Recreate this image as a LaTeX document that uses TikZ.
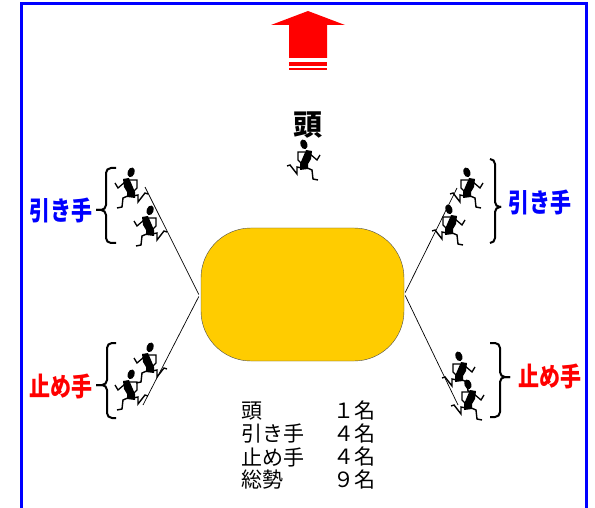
\documentclass[tikz,border=0pt]{standalone}
\usepackage{fontspec}
\usepackage{amsmath}
\usepackage{graphicx}
\newfontfamily\jpfont{Noto Sans CJK JP}
\usetikzlibrary{arrows}
\definecolor{tablefill}{HTML}{FFCC00}
\newcommand{\tallrole}[1]{\scalebox{1}[1.25]{#1}}

\begin{document}
\begin{tikzpicture}
[
x=1pt, y=-1pt,
table/.style={draw=black!70, fill=tablefill, rounded corners=50pt, minimum width=203pt, minimum height=133pt, inner sep=0pt},
rolelabel/.style={font=\jpfont\bfseries\fontsize{21}{23}\selectfont, inner sep=0pt},
headlabel/.style={font=\jpfont\bfseries\fontsize{29}{30}\selectfont, inner sep=0pt},
count/.style={font=\jpfont\fontsize{21}{23}\selectfont, inner sep=0pt},
rope/.style={draw=black, line width=0.7pt},
bracel/.style={draw=black, line width=2pt, rounded corners=5pt},
runner/.pic={
  \fill[black, rotate=20] (5,-17) ellipse (3.5 and 5);
  \fill[black] (1,-12) -- (7,-11) -- (6,-3) -- (3,2) -- (3,7) -- (-5,8) -- (-5,2) -- (-2,-5) -- cycle;
  \draw[black, line width=1.3pt] (5,-8) -- (12,-2) -- (15,-7);
  \draw[black, line width=1.3pt] (0,-10) -- (-7,-10) -- (-7,-2) -- (-3,2);
  \draw[black, line width=1.4pt] (-3,6) -- (-8,5) -- (-8,12) -- (-15,3) -- (-18,4);
  \draw[black, line width=1.4pt] (0,5) -- (7,8) -- (8,17) -- (13,18);
}
]
\useasboundingbox (0,0) rectangle (595,508);

%Frame
\draw[blue, line width=3pt] (21.5,508) -- (21.5,3.5) -- (586,3.5) -- (586,508);

%Arrow
\fill[red] (308,11) -- (345,25) -- (327,25) -- (327,58) -- (289,58) -- (289,25) -- (271,25) -- cycle;
\fill[red] (289,62) rectangle (327,66);
\fill[red] (289,68) rectangle (327,70);

%Nodes
\node[table]                   (tbl)   at (302.5,294.5) {};
\node[headlabel]               (head)  at (308,125)     {頭};
\node[rolelabel, blue]         (pullL) at (61,210)      {\tallrole{引き手}};
\node[rolelabel, blue]         (pullR) at (540,202)     {\tallrole{引き手}};
\node[rolelabel, red]          (stopL) at (61,386)      {\tallrole{止め手}};
\node[rolelabel, red]          (stopR) at (550,376)     {\tallrole{止め手}};

\coordinate (ropeA) at (145,187);
\coordinate (ropeB) at (143,405);
\coordinate (ropeC) at (457,188);
\coordinate (ropeD) at (458,405);

%Lines
\path[rope]
(tbl.west)+(-2,0) edge (ropeA)
(tbl.west)+(-2,2) edge (ropeB)
(tbl.east)+(1,-2) edge (ropeC)
(tbl.east)+(1,1)  edge (ropeD);

%Braces
\foreach \xa/\xb/\xc/\ya/\yb/\yc in {116/106/96/168/210/243, 116/107/96/343/385/418, 490/495/501/159/207/243, 490/500/510/343/377/417}{
  \draw[bracel] (\xa,\ya) -- (\xb,\ya) -- (\xb,\yb) -- (\xc,\yb);
  \draw[bracel] (\xc,\yb) -- (\xb,\yb) -- (\xb,\yc) -- (\xa,\yc);
}

%Runners
\pic at (305,162) {runner};
\pic[xscale=-1] at (130,190) {runner};
\pic[xscale=-1] at (149,228) {runner};
\pic[xscale=-1] at (149,365) {runner};
\pic[xscale=-1] at (130,392) {runner};
\pic at (468,190) {runner};
\pic at (450,227) {runner};
\pic at (460,374) {runner};
\pic at (469,402) {runner};

%Counts
\foreach \who/\num/\ypos [count=\i] in {頭/１/411, 引き手/４/434, 止め手/４/457, 総勢/９/480}{
  \node[count, anchor=west] (who\i) at (241,\ypos) {\who};
  \node[count, anchor=east] (num\i) at (376,\ypos) {\num 名};
}
\end{tikzpicture}
\end{document}
